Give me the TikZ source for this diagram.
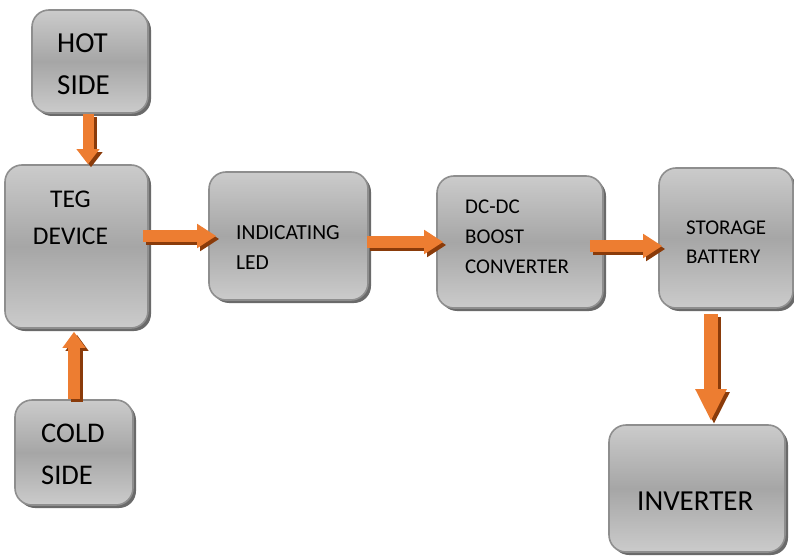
\documentclass[tikz,border=0pt]{standalone}
\usepackage{fontspec}
\setmainfont{Carlito}
\usepackage{xcolor}
\usetikzlibrary{arrows.meta,shadows}
\definecolor{boxtop}{HTML}{CBCBCB}
\definecolor{boxmid}{HTML}{A6A6A6}
\definecolor{boxline}{HTML}{8E8E8E}
\definecolor{boxshade}{HTML}{6A6A6A}
\definecolor{arrorange}{HTML}{ED7D31}
\definecolor{arrdark}{HTML}{8A3B0A}
\begin{document}
\begin{tikzpicture}[x=1pt,y=-1pt]
\tikzstyle{every node}+=[inner sep=0pt]
\tikzstyle{block}=[rectangle, rounded corners=17pt, draw=boxline, line width=1.6pt, top color=boxtop, bottom color=boxtop, middle color=boxmid, drop shadow={shadow xshift=3pt, shadow yshift=-3pt, fill=boxshade, opacity=1}]
\tikzstyle{caption}=[anchor=base west, align=left, text=black]
\tikzstyle{arrbody}=[line width=12pt, draw=arrorange, -{Triangle[width=23pt,length=19pt]}]
\tikzstyle{arrshade}=[line width=12pt, draw=arrdark, -{Triangle[width=23pt,length=19pt]}, transform canvas={xshift=3pt,yshift=-3pt}]
\useasboundingbox (0,0) rectangle (794,556);
% blocks
\node [block, minimum width=116pt, minimum height=103pt] (hot) at (90,61.5) {};
\node [block, minimum width=143pt, minimum height=163pt] (teg) at (76.5,246.5) {};
\node [block, minimum width=118pt, minimum height=105pt] (cold) at (74,452.5) {};
\node [block, minimum width=159pt, minimum height=128pt] (led) at (288.5,236) {};
\node [block, minimum width=166pt, minimum height=132pt] (dc) at (520,242) {};
\node [block, minimum width=134pt, minimum height=140pt] (bat) at (726,238) {};
\node [block, minimum width=176pt, minimum height=127pt] (inv) at (697,488.5) {};
% texts (placed at the baseline of the last line)
\node [caption, font=\fontsize{29}{42}\selectfont] (hot-t) at (57,95) {HOT\\SIDE};
\node [caption, anchor=base, align=center, font=\fontsize{25.5}{37}\selectfont] (teg-t) at (70.5,244) {TEG\\DEVICE};
\node [caption, font=\fontsize{28.5}{42}\selectfont] (cold-t) at (41,484) {COLD\\SIDE};
\node [caption, font=\fontsize{21.5}{30}\selectfont] (led-t) at (236,269) {INDICATING\\LED};
\node [caption, font=\fontsize{21}{30}\selectfont] (dc-t) at (465,273) {DC-DC\\BOOST\\CONVERTER};
\node [caption, font=\fontsize{21}{29}\selectfont] (bat-t) at (686,263) {STORAGE\\BATTERY};
\node [caption, font=\fontsize{29}{35}\selectfont] (inv-t) at (637,510) {INVERTER};
% arrows
\draw [arrshade, line width=11pt, -{Triangle[width=22pt,length=15pt]}] ([xshift=-2pt]hot.south) -- ([xshift=-2pt]hot.south |- teg.north);
\draw [arrbody, line width=11pt, -{Triangle[width=22pt,length=15pt]}] ([xshift=-2pt]hot.south) -- ([xshift=-2pt]hot.south |- teg.north);
\draw [arrshade, -{Triangle[width=22pt,length=16pt]}, shorten >=3pt] (cold.north) -- (cold.north |- teg.south);
\draw [arrbody, -{Triangle[width=22pt,length=16pt]}, shorten >=3pt] (cold.north) -- (cold.north |- teg.south);
\draw [arrshade] ([xshift=-6pt]teg.east |- led.west) -- ([xshift=8pt]led.west);
\draw [arrbody] ([xshift=-6pt]teg.east |- led.west) -- ([xshift=8pt]led.west);
\draw [arrshade] ([xshift=-2pt]led.east |- dc.west) -- ([xshift=7pt]dc.west);
\draw [arrbody] ([xshift=-2pt]led.east |- dc.west) -- ([xshift=7pt]dc.west);
\draw [arrshade] ([xshift=-14pt,yshift=-4pt]dc.east) -- ([xshift=4pt,yshift=-8pt]bat.west);
\draw [arrbody] ([xshift=-14pt,yshift=-4pt]dc.east) -- ([xshift=4pt,yshift=-8pt]bat.west);
\draw [arrshade, line width=14pt, -{Triangle[width=29pt,length=32pt]}, shorten >=3pt] ([xshift=-15pt,yshift=-5pt]bat.south) -- ([xshift=-15pt]bat.south |- inv.north);
\draw [arrbody, line width=14pt, -{Triangle[width=29pt,length=32pt]}, shorten >=3pt] ([xshift=-15pt,yshift=-5pt]bat.south) -- ([xshift=-15pt]bat.south |- inv.north);
\end{tikzpicture}
\end{document}
